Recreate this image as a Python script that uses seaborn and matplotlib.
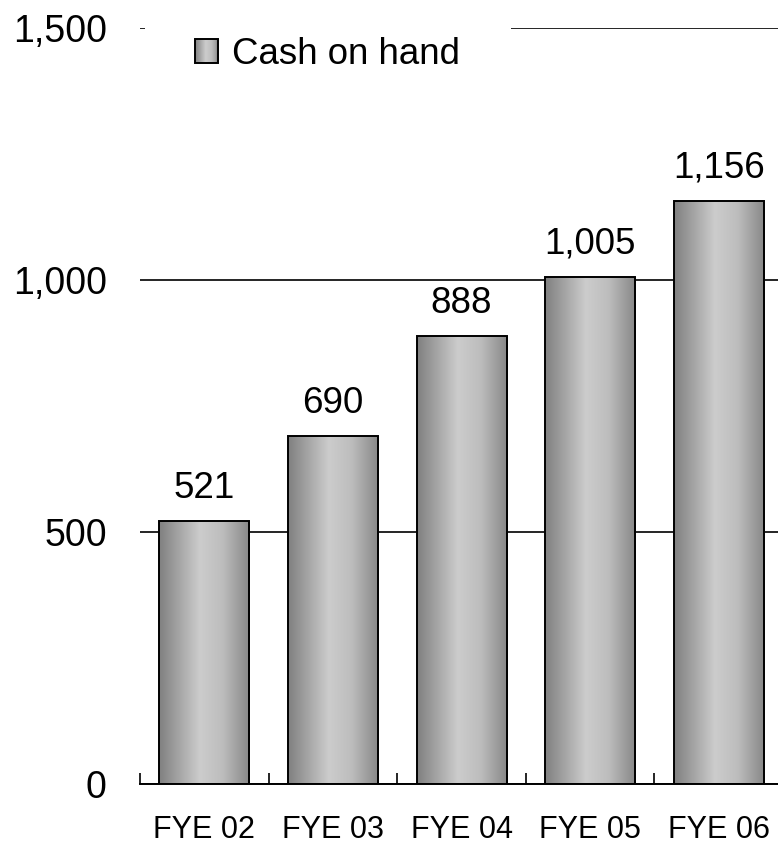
import numpy as np
import pandas as pd
import matplotlib
matplotlib.use('Agg')
import matplotlib.pyplot as plt
from matplotlib.patches import Rectangle
from matplotlib.legend_handler import HandlerBase
from matplotlib.ticker import FixedLocator, FuncFormatter
import seaborn as sns

# data
years = ['FYE 02', 'FYE 03', 'FYE 04', 'FYE 05', 'FYE 06']
cash = [521, 690, 888, 1005, 1156]
series_name = 'Cash on hand'
y_ticks = [0, 500, 1000, 1500]

sns.set_theme(style='white')
plt.rcParams['font.family'] = ['Liberation Sans', 'DejaVu Sans']
plt.rcParams['text.color'] = 'black'
plt.rcParams['legend.labelcolor'] = 'black'

# cylinder-like grey shading across each bar
stops_x = [0.0, 0.45, 0.70, 1.0]
stops_v = [0.50, 0.80, 0.74, 0.53]
grad = np.interp(np.linspace(0, 1, 256), stops_x, stops_v)
grad_img = np.tile(grad, (2, 1))


class GradientHandler(HandlerBase):
    def create_artists(self, legend, orig_handle, xdescent, ydescent,
                       width, height, fontsize, trans):
        artists = []
        n = 24
        for i in range(n):
            v = np.interp((i + 0.5) / n, stops_x, stops_v)
            artists.append(Rectangle((-xdescent + width * i / n, -ydescent), width / n + 0.3,
                                     height, facecolor=(v, v, v), edgecolor='none',
                                     transform=trans))
        artists.append(Rectangle((-xdescent, -ydescent), width, height,
                                 facecolor='none', edgecolor='black', lw=1.4,
                                 transform=trans))
        return artists


df = pd.DataFrame({'year': years, 'cash': cash})

fig = plt.figure(figsize=(7.78, 8.44), dpi=100)
ax = fig.add_axes([0.18, 0.0711, 0.8265, 0.8957])

sns.barplot(data=df, x='year', y='cash', ax=ax, color='#a0a0a0',
            edgecolor='black', linewidth=1.4, width=0.7, zorder=2)

for p in ax.patches:
    x0, y0 = p.get_x(), p.get_y()
    w, h = p.get_width(), p.get_height()
    im = ax.imshow(grad_img, cmap='gray', vmin=0, vmax=1, aspect='auto',
                   extent=(x0, x0 + w, y0, y0 + h), zorder=2, interpolation='bicubic')
    im.set_clip_path(p)
    p.set_facecolor('none')
    p.set_zorder(3)

for i, v in enumerate(cash):
    ax.annotate(f'{v:,}', (i, v), xytext=(0, 17), textcoords='offset points',
                ha='center', va='baseline', fontsize=26.5, color='black')

ax.set_xlim(-0.5, len(years) - 0.5)
ax.set_ylim(0, 1500)
ax.yaxis.set_major_locator(FixedLocator(y_ticks))
ax.yaxis.set_major_formatter(FuncFormatter(lambda v, _: f'{int(v):,}'))
ax.grid(axis='y', color='black', linewidth=1.2)
ax.set_axisbelow(True)

for s in ['left', 'right', 'top']:
    ax.spines[s].set_visible(False)
ax.spines['bottom'].set_color('black')
ax.spines['bottom'].set_linewidth(1.4)

ax.tick_params(axis='y', length=0, pad=24, labelsize=27, colors='black')
ax.tick_params(axis='x', which='major', length=0, pad=22, labelsize=22, colors='black')
ax.set_xticks(np.arange(len(years) + 1) - 0.5, minor=True)
ax.tick_params(axis='x', which='minor', direction='in', length=8, width=1.2,
               color='black', bottom=True)
ax.set_xlabel('')
ax.set_ylabel('')

leg_handle = Rectangle((0, 0), 1, 1)
leg = ax.legend([leg_handle], [series_name], handler_map={Rectangle: GradientHandler()},
                loc='center left', bbox_to_anchor=(0.0078, 0.9656), borderaxespad=0,
                fontsize=26.4, handlelength=0.63, handleheight=0.63, handletextpad=0.38,
                borderpad=1.37, frameon=True, fancybox=False, framealpha=1,
                labelcolor='black')
leg.get_frame().set_facecolor('white')
leg.get_frame().set_edgecolor('none')
leg.set_zorder(5)

fig.savefig('out.png', dpi=100)
